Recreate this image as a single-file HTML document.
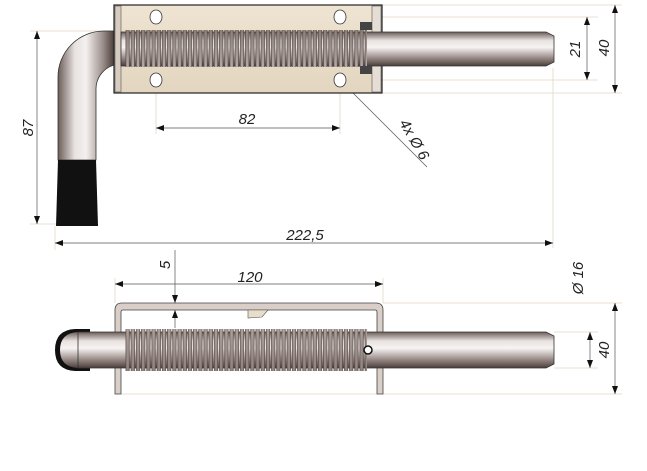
<!DOCTYPE html>
<html><head><meta charset="utf-8"><style>
html,body{margin:0;padding:0;background:#fff;width:647px;height:471px;overflow:hidden}
svg{display:block}
text{font-family:"Liberation Sans",sans-serif;font-style:italic;font-size:15px;fill:#222}
</style></head><body>
<svg width="647" height="471" viewBox="0 0 647 471" xmlns="http://www.w3.org/2000/svg">
<defs>
<linearGradient id="rod" x1="0" y1="0" x2="0" y2="1">
<stop offset="0" stop-color="#6b5d58"/><stop offset="0.25" stop-color="#e8e2e0"/><stop offset="0.45" stop-color="#f7f4f3"/><stop offset="0.75" stop-color="#9c8f8b"/><stop offset="1" stop-color="#4a3e3b"/></linearGradient>
<linearGradient id="rodv" x1="0" y1="0" x2="1" y2="0">
<stop offset="0" stop-color="#6b5d58"/><stop offset="0.3" stop-color="#e8e2e0"/><stop offset="0.5" stop-color="#f4f0ef"/><stop offset="0.8" stop-color="#9c8f8b"/><stop offset="1" stop-color="#4a3e3b"/></linearGradient>
<linearGradient id="plate" x1="0" y1="0" x2="0" y2="1">
<stop offset="0" stop-color="#efe4d2"/><stop offset="1" stop-color="#e3d6c0"/></linearGradient>
<pattern id="coil" x="125" y="0" width="5.2" height="471" patternUnits="userSpaceOnUse">
<rect x="0.9" y="0" width="3.4" height="471" rx="1.7" fill="url(#rod)" stroke="#4a3d39" stroke-width="0.6"/>
</pattern>
<marker id="a" markerWidth="8" markerHeight="6" refX="8" refY="3" orient="auto-start-reverse" markerUnits="userSpaceOnUse"><path d="M0,0 L8,3 L0,6 z" fill="#111"/></marker>
</defs>
<g stroke="#e0d8c4" stroke-width="0.8" fill="none">
<line x1="382" y1="5" x2="622" y2="5"/><line x1="382" y1="93" x2="622" y2="93"/>
<line x1="340" y1="17" x2="598" y2="17"/><line x1="340" y1="80" x2="598" y2="80"/>
<line x1="30" y1="31" x2="114" y2="31"/><line x1="30" y1="224" x2="58" y2="224"/>
<line x1="553" y1="68" x2="553" y2="248"/><line x1="55" y1="226" x2="55" y2="250"/>
<line x1="156" y1="86" x2="156" y2="134"/><line x1="340" y1="86" x2="340" y2="134"/>
<line x1="383" y1="303" x2="622" y2="303"/><line x1="383" y1="394" x2="622" y2="394"/>
<line x1="554" y1="332" x2="598" y2="332"/><line x1="554" y1="368" x2="598" y2="368"/>
<line x1="115" y1="278" x2="115" y2="303"/><line x1="383" y1="278" x2="383" y2="303"/>
<line x1="115" y1="394" x2="383" y2="394"/>
</g>
<g stroke="#555" stroke-width="0.7" fill="none">
<line x1="37" y1="31" x2="37" y2="224" marker-start="url(#a)" marker-end="url(#a)"/>
<line x1="55" y1="243" x2="553" y2="243" marker-start="url(#a)" marker-end="url(#a)"/>
<line x1="156" y1="128" x2="340" y2="128" marker-start="url(#a)" marker-end="url(#a)"/>
<line x1="587" y1="17" x2="587" y2="80" marker-start="url(#a)" marker-end="url(#a)"/>
<line x1="615" y1="5" x2="615" y2="93" marker-start="url(#a)" marker-end="url(#a)"/>
<line x1="340" y1="80" x2="427" y2="167"/>
<line x1="115" y1="284" x2="383" y2="284" marker-start="url(#a)" marker-end="url(#a)"/>
<line x1="175" y1="250" x2="175" y2="303" marker-end="url(#a)"/>
<line x1="175" y1="328" x2="175" y2="310" marker-end="url(#a)"/>
<line x1="590" y1="332" x2="590" y2="368" marker-start="url(#a)" marker-end="url(#a)"/>
<line x1="615" y1="303" x2="615" y2="394" marker-start="url(#a)" marker-end="url(#a)"/>
</g>
<path d="M114,31 L104,31 A46,46 0 0 0 58,77 L58,160 L96,160 L96,90 A25,25 0 0 1 114,65 Z" fill="url(#rodv)" stroke="#333" stroke-width="0.8"/>
<path d="M58,160 L96,160 L98,226 L56,226 Z" fill="#111"/>
<rect x="114" y="5" width="268" height="88" fill="url(#plate)" stroke="#222" stroke-width="1.2"/>
<rect x="115" y="6" width="6" height="86" fill="#d8ccc0" stroke="#555" stroke-width="0.6"/>
<rect x="372" y="6" width="9" height="86" fill="#e6ddd4" stroke="#555" stroke-width="0.6"/>
<path d="M121,32 L546,32 L554,36 L554,62 L546,66 L121,66 Z" fill="url(#rod)" stroke="#333" stroke-width="0.8"/>
<rect x="125" y="30" width="242" height="37" fill="url(#coil)"/>
<rect x="360" y="22" width="12" height="8" fill="#444"/><rect x="360" y="66" width="12" height="8" fill="#444"/>
<g fill="#fff" stroke="#333" stroke-width="0.8">
<ellipse cx="156" cy="17" rx="6" ry="7"/><ellipse cx="340" cy="17" rx="6" ry="7"/>
<ellipse cx="156" cy="80" rx="6" ry="7"/><ellipse cx="340" cy="80" rx="6" ry="7"/></g>
<path d="M115,394 L115,310 Q115,303 122,303 L376,303 Q383,303 383,310 L383,394 L377,394 L377,312 Q377,310 375,310 L123,310 Q121,310 121,312 L121,394 Z" fill="#d9cfc8" stroke="#444" stroke-width="0.8"/>
<path d="M248,310 L268,310 L262,317 L248,318 Z" fill="#e8dccb" stroke="#555" stroke-width="0.6"/>
<path d="M75,329 Q55,330 55,350 Q55,370 75,371 L90,371 L90,329 Z" fill="#111"/>
<path d="M78,332 Q60,333 60,350 Q60,367 78,368 Z" fill="url(#rod)"/>
<path d="M78,332 L546,332 L554,336 L554,364 L546,368 L78,368 Z" fill="url(#rod)" stroke="#333" stroke-width="0.8"/>
<rect x="125" y="329" width="242" height="42" fill="url(#coil)"/>
<circle cx="368" cy="350" r="4" fill="#fff" stroke="#111" stroke-width="1.5"/>
<text x="305" y="240" text-anchor="middle">222,5</text>
<text x="247" y="124" text-anchor="middle">82</text>
<text transform="translate(33,128) rotate(-90)" text-anchor="middle">87</text>
<text transform="translate(580,49) rotate(-90)" text-anchor="middle">21</text>
<text transform="translate(609,48) rotate(-90)" text-anchor="middle">40</text>
<text transform="translate(410,142) rotate(60)" text-anchor="middle">4x Ø 6</text>
<text x="250" y="282" text-anchor="middle">120</text>
<text transform="translate(170,265) rotate(-90)" text-anchor="middle">5</text>
<text transform="translate(583,278) rotate(-90)" text-anchor="middle">Ø 16</text>
<text transform="translate(609,350) rotate(-90)" text-anchor="middle">40</text>
</svg>
</body></html>
